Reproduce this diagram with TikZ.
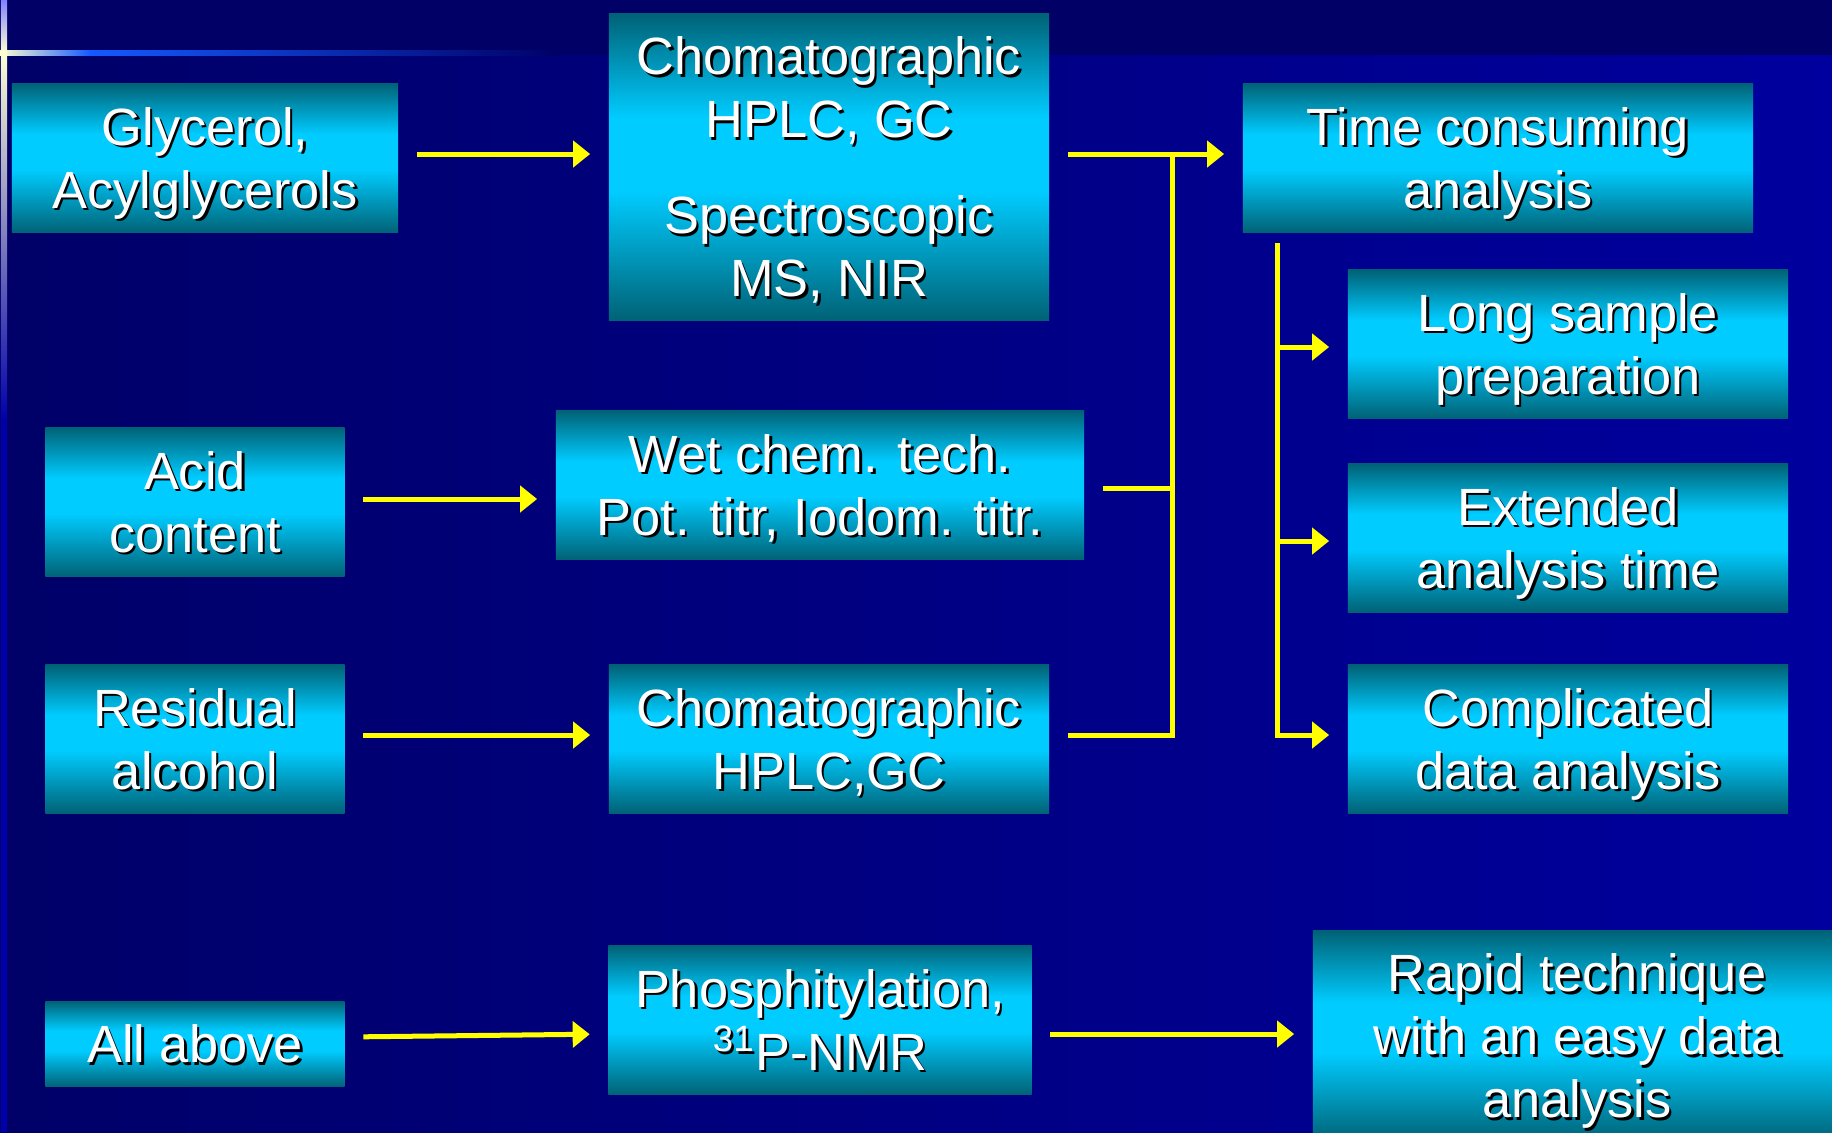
\documentclass[tikz,border=0pt]{standalone}
\usepackage{fontspec}
\setmainfont{Liberation Sans}
\usetikzlibrary{arrows.meta}

% Slide colours
\definecolor{bgtop}{RGB}{0,0,102}
\definecolor{bgleft}{RGB}{0,0,104}
\definecolor{bgright}{RGB}{0,0,158}
\definecolor{glowpale}{RGB}{255,255,210}
\definecolor{glowblue}{RGB}{20,90,255}
\definecolor{glowlav}{RGB}{130,130,255}
\definecolor{edgeblue}{RGB}{0,0,170}
\definecolor{boxdark}{RGB}{0,98,118}
\definecolor{boxlight}{RGB}{0,204,255}
\definecolor{flowyellow}{RGB}{255,255,0}

% Box gradient: dark rims, bright band
\pgfdeclarehorizontalshading{boxshade}{100bp}{color(0bp)=(boxdark); color(25bp)=(boxdark); color(46bp)=(boxlight); color(58bp)=(boxlight); color(75bp)=(boxdark); color(100bp)=(boxdark)}

% White text with a black drop shadow
\newcommand{\shtab}[1]{\begin{tabular}{@{}c@{}}#1\end{tabular}}
\newcommand{\shtxt}[1]{%
  \raisebox{-0.06cm}[\height][\depth]{%
    \makebox[0pt][l]{\raisebox{-0.025cm}[0pt][0pt]{\hspace{0.025cm}\color{black}\shtab{#1}}}%
    \shtab{#1}}}

\tikzset{
  panel/.style={rectangle, inner sep=0pt, shading=boxshade, shading angle=90,
    text=white, font=\fontsize{14.9}{17.9}\selectfont},
  bus/.style={draw=flowyellow, line width=0.05cm},
  flow/.style={bus, shorten >=0.18cm, -{Triangle[length=0.17cm,width=0.26cm]}},
  gap/.style={shorten <=0.18cm}
}

\begin{document}
\begin{tikzpicture}[x=0.01cm, y=-0.01cm]

\useasboundingbox (0,0) rectangle (1832,1132);

% Background
\fill[bgtop] (0,0) rectangle (1832,55);
\shade[left color=bgleft, right color=bgright] (0,55) rectangle (1832,1132);

% Corner glow lines
\shade[left color=glowpale, right color=glowblue] (0,50) rectangle (90,55);
\shade[left color=glowblue, right color=bgtop] (90,50) rectangle (560,55);
\shade[top color=glowlav, bottom color=glowpale] (1,0) rectangle (7,52);
\shade[top color=glowpale, bottom color=edgeblue] (1,52) rectangle (7,420);
\fill[edgeblue] (1,420) rectangle (7,1132);

% Samples
\node[panel, minimum width=3.86cm, minimum height=1.49cm] (glyc) at (205,158) {\shtxt{Glycerol,\\Acylglycerols}};
\node[panel, minimum width=2.99cm, minimum height=1.49cm] (acid) at (195,502) {\shtxt{Acid\\content}};
\node[panel, minimum width=2.99cm, minimum height=1.48cm] (resid) at (195,739) {\shtxt{Residual\\alcohol}};
\node[panel, minimum width=2.99cm, minimum height=0.85cm] (allab) at (195,1044) {\shtxt{All above}};

% Methods
\node[panel, minimum width=4.40cm, minimum height=3.06cm] (chromA) at (829,167) {\shtxt{Chomatographic\\HPLC, GC\\[0.33cm]Spectroscopic\\MS, NIR}};
\node[panel, minimum width=5.28cm, minimum height=1.49cm] (wetch) at (820,485) {\shtxt{Wet chem. tech.\\Pot. titr, Iodom. titr.}};
\node[panel, minimum width=4.40cm, minimum height=1.48cm] (chromB) at (829,739) {\shtxt{Chomatographic\\HPLC,GC}};
\node[panel, minimum width=4.23cm, minimum height=1.49cm] (phosp) at (820,1020) {\shtxt{Phosphitylation,\\\textsuperscript{31}P-NMR}};

% Outcomes
\node[panel, minimum width=5.10cm, minimum height=1.49cm] (timec) at (1498,158) {\shtxt{Time consuming\\analysis}};
\node[panel, minimum width=4.40cm, minimum height=1.48cm] (longs) at (1568,344) {\shtxt{Long sample\\preparation}};
\node[panel, minimum width=4.40cm, minimum height=1.48cm] (extan) at (1568,538) {\shtxt{Extended\\analysis time}};
\node[panel, minimum width=4.40cm, minimum height=1.48cm] (compl) at (1568,739) {\shtxt{Complicated\\data analysis}};
\node[panel, minimum width=5.28cm, minimum height=2.10cm] (rapid) at (1577,1036) {\shtxt{Rapid technique\\with an easy data\\analysis}};

% Sample -> method
\draw[flow, gap] ([yshift=0.04cm]glyc.east) -- ([yshift=0.04cm]glyc.east -| chromA.west);
\draw[flow, gap] ([yshift=0.03cm]acid.east) -- ([yshift=0.03cm]acid.east -| wetch.west);
\draw[flow, gap] ([yshift=0.04cm]resid.east) -- ([yshift=0.04cm]resid.east -| chromB.west);
\draw[flow, gap] ([yshift=0.07cm]allab.east) -- ([yshift=-0.14cm]phosp.west);
\draw[flow, gap] ([yshift=-0.14cm]phosp.east) -- ([yshift=-0.14cm]phosp.east -| rapid.west);

% Classical methods join into one bus
\coordinate (busA) at ([xshift=1.23cm]chromA.east);
\coordinate (topA) at ([yshift=0.04cm]timec.west);
\coordinate (midA) at ([yshift=-0.03cm]wetch.east);
\coordinate (lowA) at ([yshift=0.04cm]chromB.east);
\draw[flow, gap] (chromA.east |- topA) -- (topA);
\draw[bus, gap] (lowA) -- (busA |- lowA) -- (busA |- topA);
\draw[bus, gap] (midA) -- (busA |- midA);

% Drawbacks
\coordinate (busB) at ([xshift=0.35cm, yshift=-0.1cm]timec.south west);
\coordinate (longIn) at ([yshift=-0.03cm]longs.west);
\coordinate (extIn) at ([yshift=-0.03cm]extan.west);
\draw[flow] (busB) -- (busB |- lowA) -- (lowA -| compl.west);
\draw[flow] (busB |- longIn) -- (longIn);
\draw[flow] (busB |- extIn) -- (extIn);

\end{tikzpicture}
\end{document}
